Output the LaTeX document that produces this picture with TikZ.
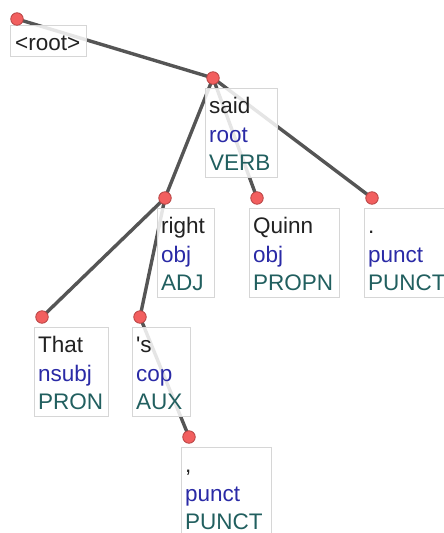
\documentclass[tikz,border=0pt]{standalone}
\usepackage{fontspec}
\setmainfont{Liberation Sans}
\definecolor{arcgray}{HTML}{555555}
\definecolor{boxline}{HTML}{D6D6D6}
\definecolor{dotfill}{HTML}{F25F5F}
\definecolor{dotline}{HTML}{B84545}
\definecolor{ink}{HTML}{222222}
\definecolor{relblue}{HTML}{2A2AA6}
\definecolor{posteal}{HTML}{215F5F}
\tikzset{
  arc/.style={draw=arcgray, line width=3.4pt},
  lbl/.style={draw=boxline, line width=0.8pt, fill=white, fill opacity=0.85, anchor=north west, inner sep=0pt, minimum height=89pt},
  tok/.style={circle, draw=dotline, fill=dotfill, line width=0.8pt, minimum size=12.5pt, inner sep=0pt},
  word/.style={anchor=base west, inner sep=0pt, text=ink, font=\fontsize{22.5}{27}\selectfont},
  rel/.style={word, text=relblue},
  upos/.style={word, text=posteal}
}
\begin{document}
\begin{tikzpicture}[x=1pt, y=-1pt]
  \useasboundingbox (0,0) rectangle (444,533);

  % token positions
  \coordinate (root) at (17,19);
  \coordinate (said) at (213,78);
  \coordinate (right) at (165,198);
  \coordinate (quinn) at (257,198);
  \coordinate (period) at (372,198);
  \coordinate (that) at (42,317);
  \coordinate (s) at (140,317);
  \coordinate (comma) at (189,437);

  % dependency arcs
  \draw[arc] (root) -- (said);
  \draw[arc] (said) -- (right);
  \draw[arc] (said) -- (quinn);
  \draw[arc] (said) -- (period);
  \draw[arc] (right) -- (that);
  \draw[arc] (right) -- (s);
  \draw[arc] (s) -- (comma);

  % label boxes
  \node[lbl, minimum width=76pt, minimum height=31pt] (root-box) at (10,25) {};
  \node[word] at ([shift={(5,25)}]root-box.north west) {<root>};
  \foreach \t/\w/\form/\dep/\pos in {said/72/said/root/VERB, right/57/right/obj/ADJ,
      quinn/90/Quinn/obj/PROPN, period/90/./punct/PUNCT, that/74/That/nsubj/PRON,
      s/58/\textquotesingle s/cop/AUX, comma/90/{,}/punct/PUNCT} {
    \node[lbl, minimum width=\w pt] (\t-box) at ([shift={(-8,9.5)}]\t) {};
    \node[word] at ([shift={(4,26)}]\t-box.north west) {\form};
    \node[rel] at ([shift={(4,54.5)}]\t-box.north west) {\dep};
    \node[upos] at ([shift={(4,83)}]\t-box.north west) {\pos};
  }

  % token dots
  \foreach \t in {root, said, right, quinn, period, that, s, comma}
    \node[tok] (\t-dot) at (\t) {};
\end{tikzpicture}
\end{document}
